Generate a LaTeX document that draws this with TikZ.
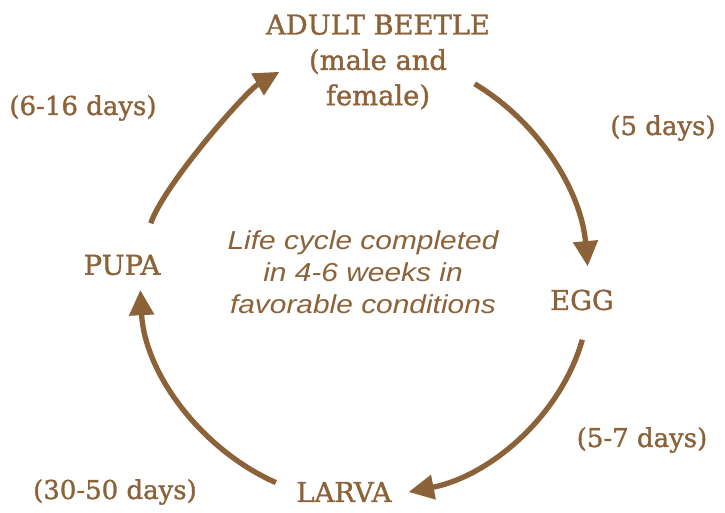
\documentclass[tikz,border=0pt]{standalone}
\usepackage{fontspec}
\font\stagefont="DejaVu Serif:embolden=1.3" at 20.5pt
\font\periodfont="DejaVu Serif:embolden=1.3" at 19.5pt
\newfontfamily\notefont[FakeStretch=1.15]{Liberation Sans}
\usepackage{xcolor}
\usetikzlibrary{arrows.meta, calc}
\definecolor{beetle}{HTML}{8C6239}
\tikzset{
  >=latex,
  % Stadi e durate
  stage/.style={text=beetle, align=center, inner sep=0, font=\fontsize{20.5}{26.5}\selectfont\stagefont},
  period/.style={text=beetle, align=center, inner sep=0, font=\fontsize{19.5}{24}\selectfont\periodfont},
  note/.style={text=beetle, align=center, inner sep=0, font=\notefont\itshape\fontsize{19.5}{24}\selectfont},
  % Frecce del ciclo
  cycle arrow/.style={draw=beetle, line width=4pt, looseness=0.9,
    -{Triangle[length=19pt,width=18pt]}}
}

\begin{document}
\begin{tikzpicture}[x=0.75pt, y=0.75pt]
\useasboundingbox (0,0) rectangle (725,513);

% Stadi
\node[stage] (adult) at (378,451) {ADULT BEETLE\\(male and\\female)};
\node[stage] (egg) at (582,213) {EGG};
\node[stage] (larva) at (344,21) {LARVA};
\node[stage] (pupa) at (122,248) {PUPA};

% Durate
\node[period] (t1) at (663,385) {(5 days)};
\node[period] (t2) at (642,73) {(5-7 days)};
\node[period] (t3) at (115,21) {(30-50 days)};
\node[period] (t4) at (83,405) {(6-16 days)};

% Nota centrale
\node[note] (info) at (363,241) {Life cycle completed\\in 4-6 weeks in\\favorable conditions};

% Punti sul cerchio
\coordinate (c) at (367,235);
\coordinate (p1) at ($(c)+(165.8:223)$);
\coordinate (p2) at ($(c)+(113:224)$);
\coordinate (e1) at ($(c)+(61:222)$);
\coordinate (e2) at ($(c)+(3:221)$);
\coordinate (l1) at ($(c)+(-16:224)$);
\coordinate (l2) at ($(c)+(-79:218)$);
\coordinate (u1) at ($(c)+(-114:224)$);
\coordinate (u2) at ($(c)+(-177:227)$);

% Frecce
\draw[cycle arrow, looseness=0.5] (p1) to[out=72, in=210] (p2);
\draw[cycle arrow] (e1) to[out=-31, in=95] (e2);
\draw[cycle arrow] (l1) to[out=-106, in=11] (l2);
\draw[cycle arrow] (u1) to[out=156, in=-87] (u2);

\end{tikzpicture}
\end{document}
